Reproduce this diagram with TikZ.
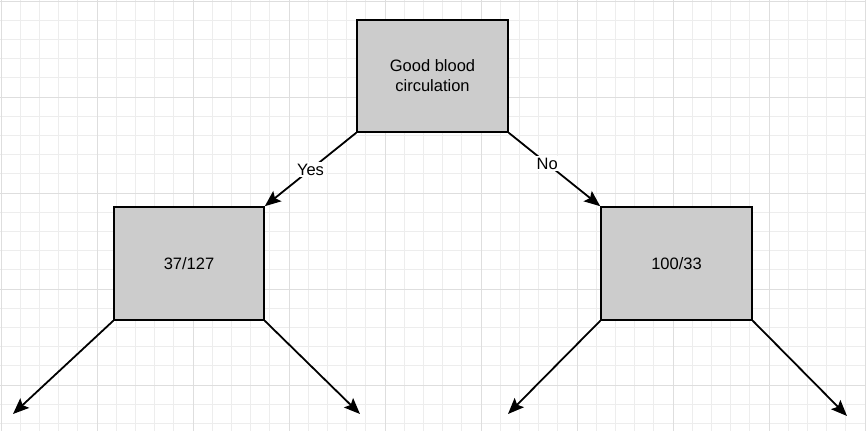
\documentclass[tikz,border=0pt]{standalone}
\usepackage{fontspec}
\setmainfont{Liberation Sans}
\usetikzlibrary{arrows.meta}
\definecolor{minorgrid}{HTML}{EDEDED}
\definecolor{majorgrid}{HTML}{DEDEDE}
\definecolor{boxfill}{HTML}{CCCCCC}
\tikzset{
  box/.style={draw=black, line width=1.6pt, fill=boxfill, minimum width=#1, inner sep=0pt, align=center, font=\fontsize{16.5}{20}\selectfont},
  conn/.style={line width=1.8pt, -{Stealth[length=16pt, width=13pt, inset=3pt]}},
  lbl/.style={fill=white, inner sep=2pt, font=\fontsize{16.5}{20}\selectfont}
}
\begin{document}
\begin{tikzpicture}[x=1pt, y=-1pt]
\useasboundingbox (0,0) rectangle (866,431);
\fill[white] (0,0) rectangle (866,431);
% grid
\foreach \i in {0,...,45} {
  \pgfmathsetmacro\xx{1+19.2*\i}
  \draw[minorgrid, line width=0.8pt] (\xx,0) -- (\xx,431);
}
\foreach \i in {0,...,22} {
  \pgfmathsetmacro\yy{1+19.2*\i}
  \draw[minorgrid, line width=0.8pt] (0,\yy) -- (866,\yy);
}
\foreach \i in {0,5,...,45} {
  \pgfmathsetmacro\xx{1+19.2*\i}
  \draw[majorgrid, line width=0.9pt] (\xx,0) -- (\xx,431);
}
\foreach \i in {0,5,...,20} {
  \pgfmathsetmacro\yy{1+19.2*\i}
  \draw[majorgrid, line width=0.9pt] (0,\yy) -- (866,\yy);
}
% boxes
\node[box=151pt, minimum height=112pt] (root) at (432.5,76) {Good blood\\circulation};
\node[box=150pt, minimum height=113pt] (left) at (189,263.5) {37/127};
\node[box=151pt, minimum height=113pt] (right) at (676.5,263.5) {100/33};
% free ends
\coordinate (ll) at (13,414);
\coordinate (lr) at (360,414);
\coordinate (rl) at (508,414);
\coordinate (rr) at (847,416);
% connectors
\draw[conn] (root.south west) -- node[lbl, pos=0.5] {Yes} (left.north east);
\draw[conn] (root.south east) -- node[lbl, pos=0.42] {No} (right.north west);
\draw[conn] (left.south west) -- (ll);
\draw[conn] (left.south east) -- (lr);
\draw[conn] (right.south west) -- (rl);
\draw[conn] (right.south east) -- (rr);
\end{tikzpicture}
\end{document}
